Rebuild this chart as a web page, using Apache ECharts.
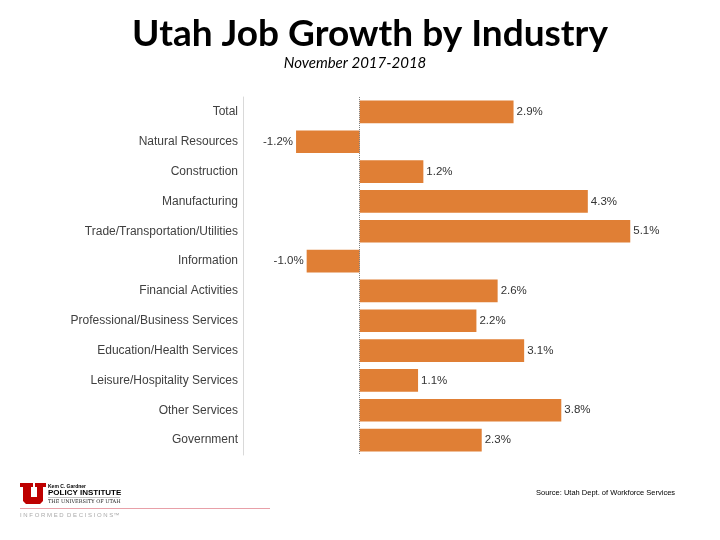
<!DOCTYPE html>
<html>
<head>
<meta charset="utf-8">
<script src="https://cdn.jsdelivr.net/npm/echarts@6/dist/echarts.min.js"></script>
<style>
html,body{margin:0;padding:0;background:#fff;}
#chart{width:720px;height:540px;}
</style>
</head>
<body>
<div id="chart"></div>
<script>
const categories = ["Total","Natural Resources","Construction","Manufacturing","Trade/Transportation/Utilities","Information","Financial Activities","Professional/Business Services","Education/Health Services","Leisure/Hospitality Services","Other Services","Government"];
const values = [2.9,-1.2,1.2,4.3,5.1,-1.0,2.6,2.2,3.1,1.1,3.8,2.3];
const titleText = "Utah Job Growth by Industry";
const subtitleText = "November 2017-2018";
const sourceText = "Source: Utah Dept. of Workforce Services";

const barData = values.map(v => ({value:v, label:{position: v < 0 ? 'left' : 'right'}}));

const chart = echarts.init(document.getElementById('chart'), null, {renderer:'canvas'});
chart.setOption({
  animation:false,
  backgroundColor:'#ffffff',
  title:[
    {text:titleText,left:365,top:11,textAlign:'center',textStyle:{fontFamily:'Lato',fontSize:37,fontWeight:'bold',color:'#000'}},
    {text:subtitleText,left:350,top:51,textAlign:'center',textStyle:{fontFamily:'Lato',fontStyle:'italic',fontSize:15,fontWeight:'normal',color:'#000'}}
  ],
  grid:{left:243,right:42,top:97,bottom:85,containLabel:false},
  xAxis:{type:'value',min:-2.2,max:6,show:false,splitLine:{show:false}},
  yAxis:{type:'category',data:categories,inverse:true,
    axisLine:{show:true,onZero:false,lineStyle:{color:'#d9d9d9',width:1}},
    axisTick:{show:false},
    axisLabel:{fontFamily:'Liberation Sans',fontSize:12,color:'#404040',margin:5}},
  series:[{
    type:'bar',data:barData,barWidth:'76%',
    itemStyle:{color:'#E07F35'},
    label:{show:true,position:'right',distance:3,fontFamily:'Liberation Sans',fontSize:11.5,color:'#333',
      formatter:p=>p.value.toFixed(1)+'%'},
    markLine:{silent:true,symbol:'none',label:{show:false},
      lineStyle:{color:'#808080',type:'dotted',width:1},data:[{xAxis:0}]}
  }],
  graphic:[
    {type:'polygon',shape:{points:[[20,483],[33,483],[33,487],[31,487],[31,497],[37,497],[37,487],[35,487],[35,483],[46,483],[46,487],[43,487],[43,501],[40,504],[26,504],[23,501],[23,487],[20,487]]},style:{fill:'#BE0000'}},
    {type:'text',left:48,top:484,style:{text:'Kem C. Gardner',font:'bold 5px "Liberation Sans"',fill:'#000'}},
    {type:'text',left:48,top:489,style:{text:'POLICY INSTITUTE',font:'bold 8px "Liberation Sans"',fill:'#000'}},
    {type:'rect',shape:{x:48,y:497,width:72,height:0.6},style:{fill:'#888'}},
    {type:'text',left:48,top:499,style:{text:'THE UNIVERSITY OF UTAH',font:'5px "DejaVu Serif"',fill:'#222'}},
    {type:'rect',shape:{x:20,y:508,width:250,height:1},style:{fill:'#E8A0A8'}},
    {type:'text',left:20,top:512,style:{text:'I N F O R M E D  D E C I S I O N S™',font:'6px "Liberation Sans"',fill:'#aaa'}},
    {type:'text',left:536,top:489,style:{text:sourceText,font:'7.5px "Liberation Sans"',fill:'#000'}}
  ]
});
</script>
</body>
</html>
